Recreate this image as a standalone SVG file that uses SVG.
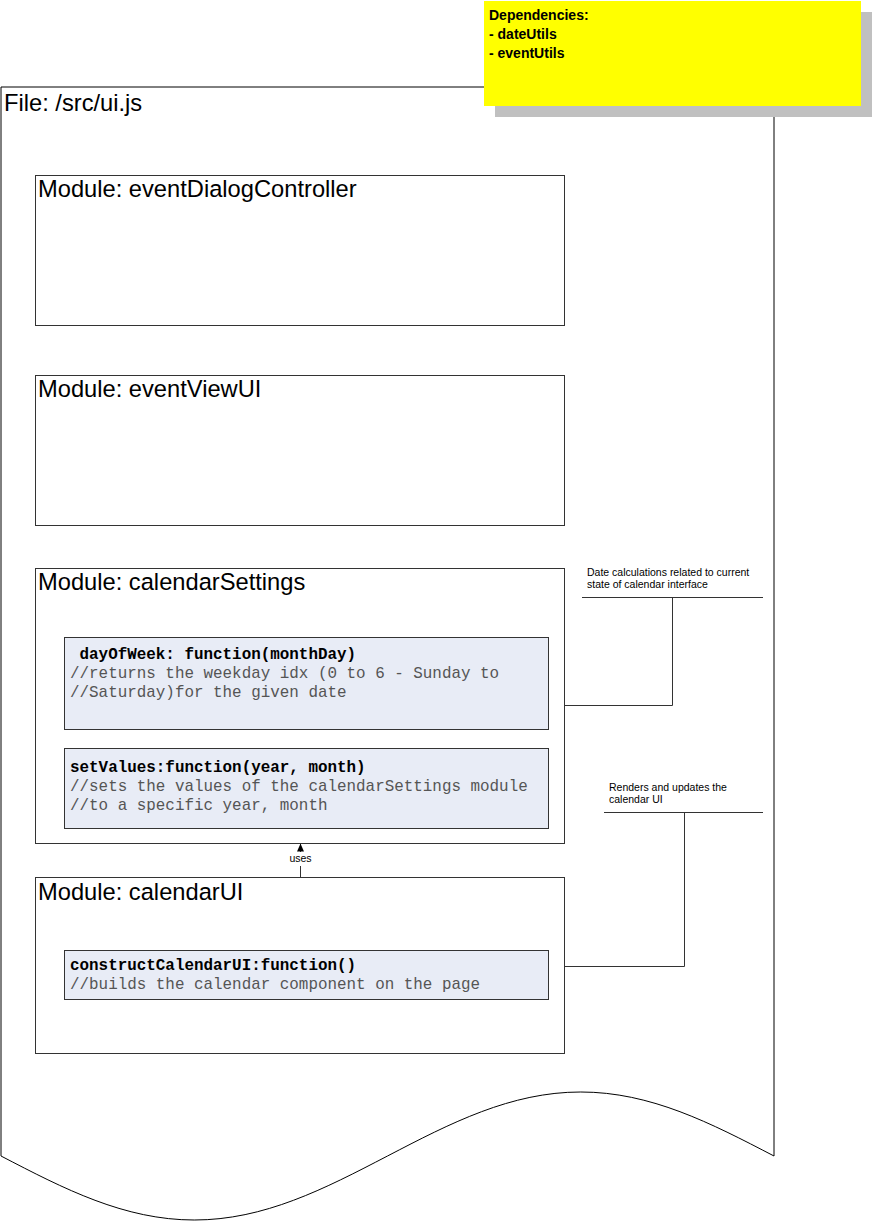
<svg xmlns="http://www.w3.org/2000/svg" width="873" height="1221" viewBox="0 0 873 1221">
<style>
.title{font-family:"Liberation Sans",Arial,sans-serif;font-size:23.7px;fill:#000}
.mod{fill:#fff;stroke:#333;stroke-width:1}
.fn{fill:#e8ecf6;stroke:#333;stroke-width:1}
.code{font-family:"Liberation Mono","Courier New",monospace;font-size:15.9px;fill:#555;white-space:pre}
.codeb{font-family:"Liberation Mono","Courier New",monospace;font-size:15.9px;font-weight:bold;fill:#000;white-space:pre}
.note{font-family:"Liberation Sans",Arial,sans-serif;font-size:10.5px;fill:#000}
.dep{font-family:"Liberation Sans",Arial,sans-serif;font-size:14px;font-weight:bold;fill:#000}
.conn{fill:none;stroke:#333;stroke-width:1}
</style>
<defs>
<marker id="arr" viewBox="0 0 10 10" refX="10" refY="5" markerWidth="8" markerHeight="7" markerUnits="userSpaceOnUse" orient="auto" preserveAspectRatio="none">
<path d="M0,0 L10,5 L0,10 Z" fill="#000"/>
</marker>
</defs>
<g id="file">
<path d="M1,87 H774 V1156 C710.97,1123.2 650.7,1092 580.75,1092 C510.8,1092 450.5,1123.2 387.5,1156 C324.5,1188.8 264.2,1220 194.25,1220 C124.31,1220 64.03,1188.8 1,1156 Z" fill="#fff" stroke="#000" stroke-width="1"/>
<text class="title" x="4" y="111">File: /src/ui.js</text>
</g>
<g id="dependencies">
<rect x="495" y="12" width="377" height="105" fill="#c0c0c0"/>
<rect x="484" y="1" width="377" height="105" fill="#ffff00"/>
<text class="dep" x="489" y="20">Dependencies:</text>
<text class="dep" x="489" y="39">- dateUtils</text>
<text class="dep" x="489" y="58">- eventUtils</text>
</g>
<g id="eventDialogController">
<rect class="mod" x="35.5" y="175.5" width="529" height="150"/>
<text class="title" x="38" y="197">Module: eventDialogController</text>
</g>
<g id="eventViewUI">
<rect class="mod" x="35.5" y="375.5" width="529" height="150"/>
<text class="title" x="38" y="397">Module: eventViewUI</text>
</g>
<g id="calendarSettings">
<rect class="mod" x="35.5" y="568.5" width="529" height="275"/>
<text class="title" x="38" y="590">Module: calendarSettings</text>
</g>
<g id="dayOfWeek">
<rect class="fn" x="64.5" y="637.5" width="484" height="92"/>
<text class="codeb" x="70" y="659"> dayOfWeek: function(monthDay)</text>
<text class="code" x="70" y="678">//returns the weekday idx (0 to 6 - Sunday to</text>
<text class="code" x="70" y="697">//Saturday)for the given date</text>
</g>
<g id="setValues">
<rect class="fn" x="64.5" y="748.5" width="484" height="80"/>
<text class="codeb" x="70" y="772">setValues:function(year, month)</text>
<text class="code" x="70" y="791">//sets the values of the calendarSettings module</text>
<text class="code" x="70" y="810">//to a specific year, month</text>
</g>
<g id="calendarUI">
<rect class="mod" x="35.5" y="877.5" width="529" height="176"/>
<text class="title" x="38" y="900">Module: calendarUI</text>
</g>
<g id="constructCalendarUI">
<rect class="fn" x="64.5" y="950.5" width="484" height="49"/>
<text class="codeb" x="70" y="970">constructCalendarUI:function()</text>
<text class="code" x="70" y="989">//builds the calendar component on the page</text>
</g>
<g id="note-date">
<text class="note" x="587" y="576">Date calculations related to current</text>
<text class="note" x="587" y="588">state of calendar interface</text>
</g>
<g id="note-render">
<text class="note" x="609" y="791">Renders and updates the</text>
<text class="note" x="609" y="803">calendar UI</text>
</g>
<g id="connectors">
<path class="conn" d="M582,597.5 H763 M672.5,597.5 V705.5 H564"/>
<path class="conn" d="M604,812.5 H763 M684.5,812.5 V966.5 H564"/>
<path class="conn" d="M300.5,877 V843.5" marker-end="url(#arr)"/>
<rect x="286" y="852" width="29" height="14" fill="#fff"/>
<text class="note" x="300.5" y="862" text-anchor="middle">uses</text>
</g>
</svg>
